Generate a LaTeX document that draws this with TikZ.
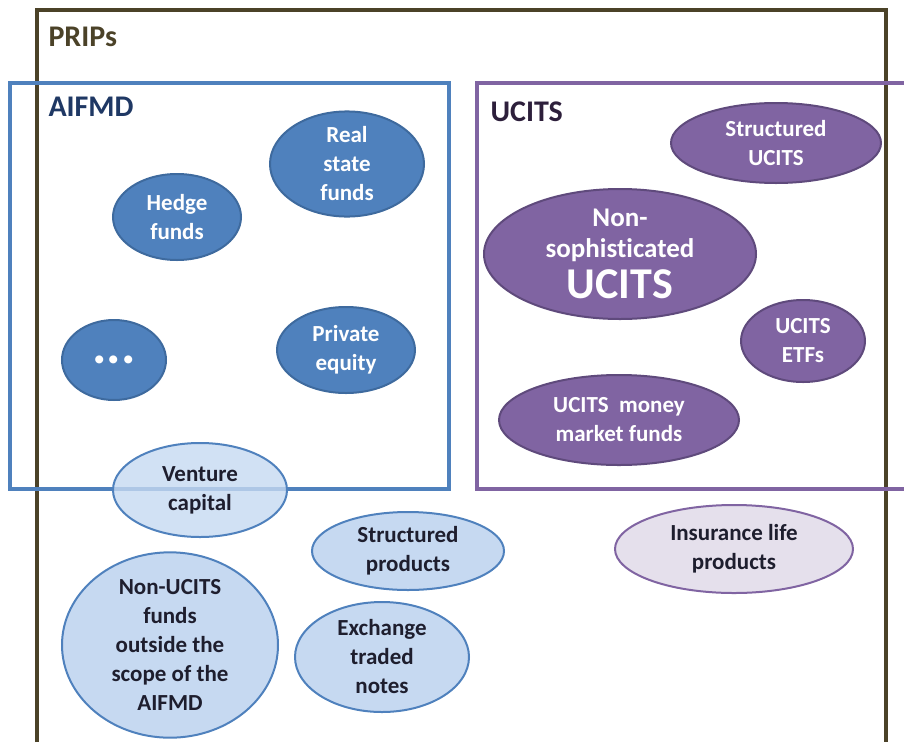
\documentclass[tikz,border=0pt]{standalone}
\usepackage{fontspec}
\setmainfont[Ligatures={NoCommon}]{Carlito}
\usetikzlibrary{shapes.geometric}
\definecolor{olive}{HTML}{4B4228}
\definecolor{bluebox}{HTML}{4F81BD}
\definecolor{bluedk}{HTML}{3E6A9E}
\definecolor{bluelt}{HTML}{C6D9F1}
\definecolor{purbox}{HTML}{8064A2}
\definecolor{purdk}{HTML}{5F4A7C}
\definecolor{purlt}{HTML}{E5E0EC}
\definecolor{navy}{HTML}{1F3864}
\definecolor{txtdk}{HTML}{1E1E2E}
\definecolor{ucitsdk}{HTML}{2D1F3B}
\begin{document}
\begin{tikzpicture}[x=1pt,y=-1pt,
  lbl/.style={font=\fontsize{23}{29}\selectfont\bfseries, align=center},
  ell/.style={ellipse, inner sep=0pt, line width=2pt, lbl},
  dkblue/.style={ell, fill=bluebox, draw=bluedk, text=white},
  ltblue/.style={ell, fill=bluelt, draw=bluebox, text=txtdk},
  dkpur/.style={ell, fill=purbox, draw=purdk, text=white},
  ltpur/.style={ell, fill=purlt, draw=purbox, text=txtdk},
  boxtitle/.style={font=\fontsize{30}{34}\selectfont\bfseries, anchor=west}
]
\useasboundingbox (0,0) rectangle (904,742);
% PRIPs outer frame
\draw[olive, line width=4pt] (37,742) -- (37,10) -- (886,10) -- (886,742);
\node[boxtitle, text=olive] (prips) at (45,37) {PRIPs};
% AIFMD box
\draw[bluebox, line width=4pt] (10,83) rectangle (449,489);
\node[boxtitle, text=navy] (aifmd) at (45,107) {AIFMD};
% UCITS box
\draw[purbox, line width=4pt] (906,83) -- (477,83) -- (477,489) -- (906,489);
\node[boxtitle, text=ucitsdk] (ucits) at (487,112) {UCITS};

% AIFMD ellipses
\node[dkblue, minimum width=128, minimum height=86] (hedge) at (177,217) {Hedge\\funds};
\node[dkblue, minimum width=154, minimum height=102] (real) at (347,164) {Real\\state\\funds};
\node[dkblue, minimum width=104, minimum height=80, font=\fontsize{54}{54}\selectfont\bfseries] (dots) at (114,360) {...};
\node[dkblue, minimum width=138, minimum height=86] (pe) at (346,350) {Private\\equity};

% UCITS ellipses
\node[dkpur, minimum width=210, minimum height=80] (sucits) at (776,143) {Structured\\UCITS};
\node[dkpur, minimum width=272, minimum height=130, font=\fontsize{27}{31}\selectfont\bfseries] (nonsoph) at (620,254) {Non-\\sophisticated\\[7pt]{\fontsize{44}{44}\selectfont UCITS}};
\node[dkpur, minimum width=124, minimum height=82] (etf) at (803,341) {UCITS\\ETFs};
\node[dkpur, minimum width=240, minimum height=90] (mm) at (619,420) {UCITS~ money\\market funds};

% outside ellipses
\node[ltblue, minimum width=174, minimum height=94, fill opacity=0.8, text opacity=1] (venture) at (200,490) {Venture\\capital};
\node[ltblue, minimum width=216, minimum height=164] (nonucits) at (170,645) {Non-UCITS\\funds\\outside the\\scope of the\\AIFMD};
\node[ltblue, minimum width=192, minimum height=78] (struct) at (408,551) {Structured\\products};
\node[ltblue, minimum width=174, minimum height=110] (etn) at (382,657) {Exchange\\traded\\notes};
\node[ltpur, minimum width=238, minimum height=88] (ins) at (734,549) {Insurance life\\products};
\end{tikzpicture}
\end{document}
